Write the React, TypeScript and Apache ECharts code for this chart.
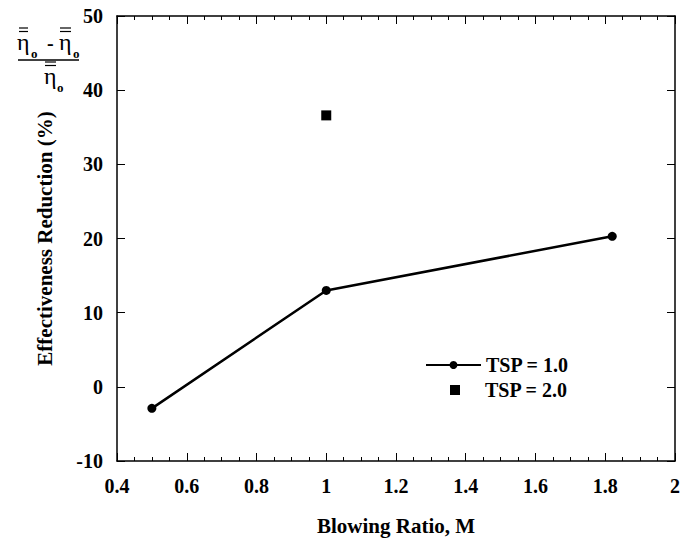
import React, { useEffect, useRef } from "react";
import * as echarts from "echarts";

const tsp1X = [0.5, 1.0, 1.82];
const tsp1Y = [-2.9, 13.0, 20.3];
const tsp2X = [1.0];
const tsp2Y = [36.6];
const seriesNames = ["TSP = 1.0", "TSP = 2.0"];
const xTitle = "Blowing Ratio, M";
const yTitle = "Effectiveness Reduction (%)";

const FONT = "Liberation Serif";

export default function App() {
  const ref = useRef<HTMLDivElement>(null);
  useEffect(() => {
    const chart = echarts.init(ref.current!, null, { renderer: "svg" });
    const axisLine = { show: true, onZero: false, lineStyle: { color: "#000", width: 1.5 } };
    const labelStyle = { fontFamily: FONT, fontWeight: "bold" as const, fontSize: 20, color: "#000" };
    const titleStyle = { ...labelStyle, fontSize: 21 };
    const eta = (x: number, y: number) => ({
      type: "text", x, y,
      style: { text: "η", fontFamily: FONT, fontWeight: "normal", fontSize: 24, fill: "#000", verticalAlign: "top" },
    });
    const bar = (x1: number, x2: number, y: number) => ({
      type: "line", shape: { x1, y1: y, x2, y2: y }, style: { stroke: "#000", lineWidth: 1.2 },
    });
    const sub = (x: number, y: number) => ({
      type: "text", x, y,
      style: { text: "o", fontFamily: FONT, fontWeight: "bold", fontSize: 13, fill: "#000", verticalAlign: "top" },
    });
    chart.setOption({
      animation: false,
      backgroundColor: "#fff",
      textStyle: { fontFamily: FONT },
      grid: { left: 117, right: 13, top: 16, bottom: 78, containLabel: false },
      xAxis: [
        {
          type: "value", min: 0.4, max: 2, interval: 0.2,
          axisLine, splitLine: { show: false },
          axisTick: { inside: true, length: 8, lineStyle: { color: "#000", width: 1 } },
          minorTick: { show: true, splitNumber: 4, length: 4, lineStyle: { color: "#000", width: 1 } },
          axisLabel: { ...labelStyle, margin: 15, formatter: (v: number) => String(Math.round(v * 10) / 10) },
          name: xTitle, nameLocation: "middle", nameGap: 54,
          nameTextStyle: { ...titleStyle },
        },
        {
          type: "value", position: "top", min: 0.4, max: 2, interval: 0.2,
          axisLine, splitLine: { show: false },
          axisTick: { inside: true, length: 8, lineStyle: { color: "#000", width: 1 } },
          minorTick: { show: true, splitNumber: 4, length: 4, lineStyle: { color: "#000", width: 1 } },
          axisLabel: { show: false },
        },
      ],
      yAxis: [
        {
          type: "value", min: -10, max: 50, interval: 10,
          axisLine, splitLine: { show: false },
          axisTick: { inside: true, length: 8, lineStyle: { color: "#000", width: 1 } },
          axisLabel: { ...labelStyle, margin: 14 },
          name: yTitle, nameLocation: "middle", nameGap: 62, nameRotate: 90,
          nameTextStyle: { ...titleStyle },
        },
        {
          type: "value", position: "right", min: -10, max: 50, interval: 10,
          axisLine, splitLine: { show: false },
          axisTick: { inside: true, length: 8, lineStyle: { color: "#000", width: 1 } },
          axisLabel: { show: false },
        },
      ],
      legend: [
        {
          data: [seriesNames[0]], orient: "vertical", left: 425, top: 355, padding: 0,
          itemWidth: 55, itemHeight: 10,
          textStyle: { ...labelStyle },
        },
        {
          data: [{ name: seriesNames[1], icon: "rect" }], orient: "vertical", left: 450, top: 380, padding: 0,
          itemWidth: 10, itemHeight: 10,
          textStyle: { ...labelStyle, padding: [0, 0, 0, 20] },
        },
      ],
      series: [
        {
          name: seriesNames[0], type: "line",
          data: tsp1X.map((x, i) => [x, tsp1Y[i]]),
          symbol: "circle", symbolSize: 9,
          lineStyle: { color: "#000", width: 2.5 },
          itemStyle: { color: "#000" },
        },
        {
          name: seriesNames[1], type: "scatter",
          data: tsp2X.map((x, i) => [x, tsp2Y[i]]),
          symbol: "rect", symbolSize: 10,
          itemStyle: { color: "#000", opacity: 1 },
        },
      ],
      graphic: [
        eta(17, 30), bar(19, 28, 28), bar(19, 28, 31.5), sub(31, 47),
        { type: "text", x: 47, y: 33, style: { text: "-", fontFamily: FONT, fontWeight: "bold", fontSize: 20, fill: "#000", verticalAlign: "top" } },
        eta(59, 30), bar(60, 71, 28), bar(60, 71, 31.5), sub(73, 47),
        { type: "line", shape: { x1: 18, y1: 60, x2: 79, y2: 60 }, style: { stroke: "#000", lineWidth: 1.3 } },
        eta(44, 64), bar(45, 56, 62), bar(45, 56, 65.5), sub(57, 81),
      ],
    });
    return () => chart.dispose();
  }, []);
  return <div ref={ref} style={{ width: 688, height: 541, position: "absolute", left: 0, top: 0 }} />;
}
